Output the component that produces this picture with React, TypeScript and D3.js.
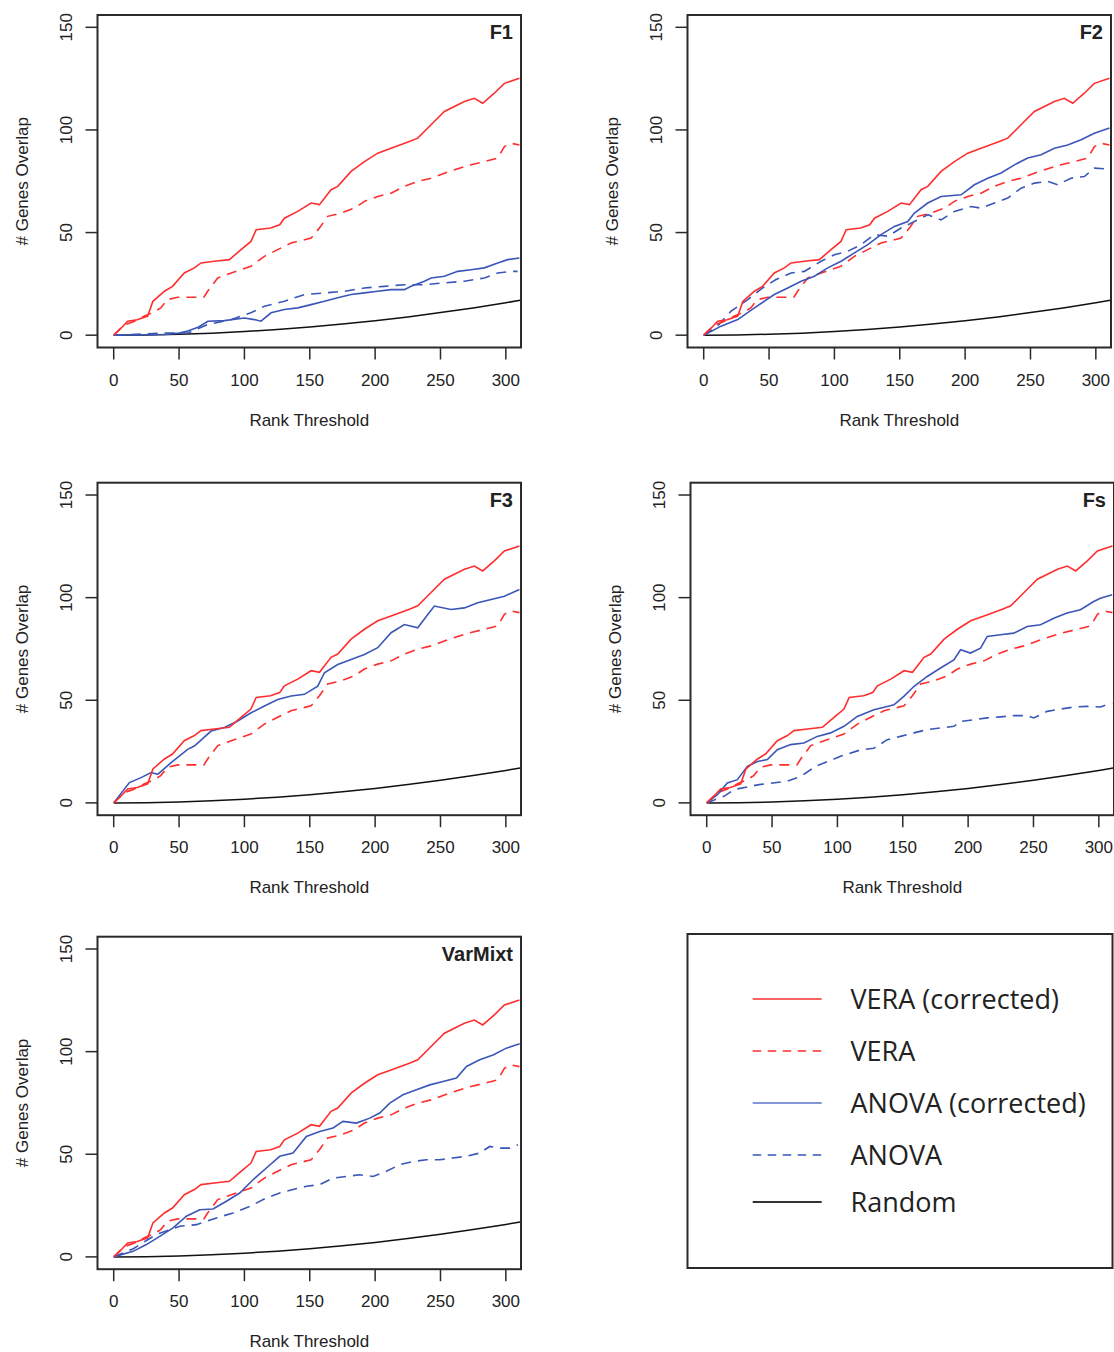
import React from "react";
import * as d3 from "d3";

type Pt = [number, number];

const xTicks = [0, 50, 100, 150, 200, 250, 300];
const yTicks = [0, 50, 100, 150];
const panelTitles = ["F1", "F2", "F3", "Fs", "VarMixt"];
const legendLabels = ["VERA (corrected)", "VERA", "ANOVA (corrected)", "ANOVA", "Random"];

// Shared across panels
const veraCorrected: Pt[] = [[0,0],[5,3],[10.7,6.8],[18,7.5],[26,9.3],[30,16.5],[38.8,21.4],[45,23.8],[54,30.3],[61.7,32.8],[66.8,35.2],[77,36],[88.5,36.8],[97.4,41.7],[105,45.7],[109,51.4],[120,52.2],[127,53.8],[130.6,57],[140.8,60.3],[151,64.4],[157.4,63.6],[166.3,70.9],[171.4,72.5],[181.6,79.8],[191.8,84.6],[202,88.7],[212.2,91.1],[226.2,94.4],[232.6,96],[242.8,102.5],[253,109],[268.3,113.8],[275.9,115.4],[282.3,113],[291.2,117.9],[298.9,122.7],[310.4,125.2]];
const vera: Pt[] = [[0,0],[8,5],[15,6.5],[23.5,9.3],[30,11],[36,13.3],[41,17.3],[49,18.5],[69,18.5],[72,21.5],[79.6,27.9],[90,30.3],[105,33.6],[115.3,38.4],[125.5,41.7],[135.7,44.9],[151,47.3],[157.4,52.2],[163.7,57.9],[174,59.5],[184.1,61.9],[191.8,65.2],[202,67.6],[212.2,69.2],[222.4,72.5],[232.6,74.9],[242.8,76.5],[253,78.9],[263.2,81.1],[273.4,83],[283.6,84.6],[293.8,86.3],[298.9,91.9],[303.9,93.5],[310.4,92.7]];
const randomOverlap: Pt[] = [[0,0],[25,0.1],[50,0.45],[75,1],[100,1.8],[125,2.8],[150,4],[175,5.4],[200,7],[225,8.9],[250,11],[275,13.3],[300,15.8],[311,17]];

// Per panel ANOVA curves
const anovaCorrF1: Pt[] = [[0,0],[38.8,0.3],[50,1],[56.6,2],[65,4],[72,6.8],[84.6,7.1],[100,8.4],[107.6,7.6],[112.7,6.8],[120.4,10.9],[130.6,12.5],[140.8,13.3],[151,14.9],[161.2,16.5],[171.4,18.2],[181.6,19.8],[191.8,20.6],[202,21.4],[212.2,22.2],[222.4,22.2],[227.5,23.8],[237.7,26.3],[242.8,27.9],[253,28.7],[263.2,31.1],[273.4,31.9],[283.6,32.8],[293.8,35.2],[301.4,36.8],[310.4,37.6]];
const anovaF1: Pt[] = [[0,0],[13,0.3],[38.8,1.1],[56.6,1.1],[72,5.2],[90,7.6],[105,10.9],[115.3,14.1],[130.6,16.5],[145.9,19.8],[161.2,20.6],[176.5,21.4],[191.8,23],[207.1,23.8],[222.4,24.6],[237.7,24.6],[253,25.5],[268.3,26.3],[283.6,27.9],[293.8,30.3],[304,31.1],[309,31.1]];

const anovaCorrF2: Pt[] = [[0,0],[13.3,4.4],[26,7.6],[38.8,13.3],[54,19.8],[64.3,23],[74.5,26.3],[84.7,28.7],[94.9,32.8],[105.1,36],[115.3,40.1],[125.5,44.1],[135.7,49],[145.9,53],[156.1,55.4],[161.2,59.5],[171.4,64.4],[181.6,67.6],[196.9,68.4],[207.1,73.3],[217.3,76.5],[227.5,79],[237.7,83],[247.9,86.3],[258.1,87.9],[268.3,91.1],[278.5,92.7],[288.7,95.2],[298.9,98.4],[310.4,100.9]];
const anovaF2: Pt[] = [[0,0],[10,4],[20.9,11.7],[33.7,17.3],[45,23],[55,27],[66.8,30.3],[77,31.1],[89.8,36],[100,39.2],[110.2,40.9],[120.4,44.1],[130.6,49],[140.8,48.2],[151,52.2],[161.2,55.4],[171.4,58.7],[181.6,56.2],[191.8,60.3],[204.5,62.7],[212.2,61.9],[222.4,64.4],[232.6,66.8],[242.8,71.6],[253,74.1],[263.2,74.9],[270.8,73.3],[281,76.5],[291.2,77.3],[298.9,81.4],[306.5,81.1]];

const anovaCorrF3: Pt[] = [[0,0],[12,9.9],[20.9,12.3],[28.6,14.8],[33.7,13.9],[43.9,19.6],[56.6,26.1],[61.7,27.7],[74.5,35],[84.7,36.7],[94.9,39.9],[105.1,43.9],[115.3,47.2],[125.5,50.4],[135.7,52.1],[145.9,52.9],[156.1,56.9],[161.2,63.4],[171.4,67.4],[181.6,69.9],[191.8,72.3],[202,75.6],[212.2,82.9],[222.4,86.9],[232.6,85.3],[240.3,91.8],[245.3,95.9],[258.1,94.2],[268.3,95],[278.5,97.5],[288.7,99.1],[298.9,100.7],[310.4,104]];
const anovaF3: Pt[] = [];

const anovaCorrFs: Pt[] = [[0,0],[8.2,4],[15.8,9.7],[23.5,11.3],[31.1,17.8],[38.8,20.2],[46.4,21.1],[54,25.9],[64.2,28.4],[74.4,29.2],[84.6,32.4],[94.8,34.1],[105,37.3],[115.2,42.1],[127.9,45.4],[138.1,47],[143.2,47.8],[150.8,51.9],[158.5,56.7],[168.7,61.6],[178.9,65.7],[189.1,69.7],[194.2,74.6],[201.8,73],[209.5,75.4],[214.6,81.1],[224.8,81.9],[234.9,82.7],[245.2,85.9],[255.4,86.8],[265.5,90],[275.7,92.5],[285.9,94.1],[296.1,98.1],[301.2,99.7],[310.2,101.4]];
const anovaFs: Pt[] = [[0,0],[13.2,3.2],[20.9,6.5],[40,8.9],[61,10.5],[72,12.9],[83.3,17.8],[102.4,22.7],[118,25.9],[127.9,26.6],[138.1,30.8],[148.3,32.4],[158.5,34.1],[168.7,35.7],[178.9,36.5],[189.1,37.3],[194.2,39.7],[204.4,40.5],[214.6,41.4],[224.8,41.9],[234.9,42.5],[245.2,42.5],[250.2,41.4],[260.5,44.6],[270.6,45.7],[280.8,46.7],[291,47],[301.2,46.7],[310.2,48.7]];

const anovaCorrVarMixt: Pt[] = [[0,0],[14.8,2.7],[25,6],[35.2,10],[45.4,14.1],[55.6,19.8],[65.8,23],[76,23.3],[86.2,27.1],[96.4,31.1],[106.6,37.6],[116.8,43.3],[127,49],[137.2,50.6],[147.4,58.7],[157.6,61.1],[167.8,62.8],[175.4,66],[185.7,65.2],[195.9,67.6],[203.5,70.1],[211.2,74.9],[221.3,79],[231.6,81.4],[241.8,83.8],[252,85.5],[262.2,87.1],[269.9,92.8],[280,96],[290.2,98.4],[300.4,101.7],[310.6,103.8]];
const anovaVarMixt: Pt[] = [[0,0],[15,4],[25,8],[32.6,10.9],[50.5,14.9],[63.3,15.7],[78.6,19],[91.3,21.4],[104.1,24.6],[116.8,28.7],[127,31.1],[137.2,32.8],[147.4,34.4],[157.6,35.2],[167.8,38.4],[178,39.2],[188.2,40],[198.4,39.2],[208.6,41.7],[218.8,44.9],[229,46.5],[239.2,47.3],[249.4,47.3],[259.6,48.2],[269.8,49],[280,50.6],[287.7,53.8],[295.3,53],[303,53],[309.3,54.6]];

const anovaCorrByPanel = [anovaCorrF1, anovaCorrF2, anovaCorrF3, anovaCorrFs, anovaCorrVarMixt];
const anovaByPanel = [anovaF1, anovaF2, anovaF3, anovaFs, anovaVarMixt];

const RED = "#ff2e2e";
const BLUE = "#3a56b8";
const FONT = "'Liberation Sans', Arial, Helvetica, sans-serif";

const panelPos: [number, number][] = [
  [97.5, 15],
  [687.5, 15],
  [97.5, 482.7],
  [690.5, 482.7],
  [97.5, 936.7],
];
const PW = 423.5;
const PH = 332.5;

function Panel({ left, top, title, anovaCorr, anova }: { left: number; top: number; title: string; anovaCorr: Pt[]; anova: Pt[] }) {
  const x = d3.scaleLinear().domain([-12.4, 311.6]).range([left, left + PW]);
  const y = d3.scaleLinear().domain([-6, 156]).range([top + PH, top]);
  const line = d3.line<Pt>().x((d) => x(d[0])).y((d) => y(d[1]));
  const bottom = top + PH;
  const cx = left + PW / 2;
  const cy = top + PH / 2;
  return (
    <g>
      <path d={line(randomOverlap) || ""} fill="none" stroke="#111" strokeWidth={1.5} />
      {anova.length > 0 && (
        <path d={line(anova) || ""} fill="none" stroke={BLUE} strokeWidth={1.6} strokeDasharray="10,7" />
      )}
      <path d={line(vera) || ""} fill="none" stroke={RED} strokeWidth={1.6} strokeDasharray="10,7" />
      <path d={line(anovaCorr) || ""} fill="none" stroke={BLUE} strokeWidth={1.6} />
      <path d={line(veraCorrected) || ""} fill="none" stroke={RED} strokeWidth={1.6} />
      <rect x={left} y={top} width={PW} height={PH} fill="none" stroke="#2a2a2a" strokeWidth={2} />
      {xTicks.map((t) => (
        <g key={"x" + t}>
          <line x1={x(t)} x2={x(t)} y1={bottom} y2={bottom + 12} stroke="#2a2a2a" strokeWidth={1.5} />
          <text x={x(t)} y={bottom + 38} textAnchor="middle" fontSize={17} fontFamily={FONT} fill="#222">{t}</text>
        </g>
      ))}
      {yTicks.map((t) => (
        <g key={"y" + t}>
          <line x1={left - 12} x2={left} y1={y(t)} y2={y(t)} stroke="#2a2a2a" strokeWidth={1.5} />
          <text transform={`translate(${left - 26},${y(t)}) rotate(-90)`} textAnchor="middle" fontSize={17} fontFamily={FONT} fill="#222">{t}</text>
        </g>
      ))}
      <text x={cx} y={bottom + 78} textAnchor="middle" fontSize={17} fontFamily={FONT} fill="#222">Rank Threshold</text>
      <text transform={`translate(${left - 70},${cy}) rotate(-90)`} textAnchor="middle" fontSize={17} fontFamily={FONT} fill="#222"># Genes Overlap</text>
      <text x={left + PW - 8} y={top + 24} textAnchor="end" fontSize={20} fontWeight="bold" fontFamily={FONT} fill="#222">{title}</text>
    </g>
  );
}

function Legend() {
  const lx = 687.5, ly = 934, lw = 425, lh = 334;
  const rows = [999, 1051, 1103, 1155, 1202];
  const styles = [
    { c: RED, dash: undefined },
    { c: RED, dash: "8.5,6.5" },
    { c: "#5b73c8", dash: undefined },
    { c: BLUE, dash: "8.5,6.5" },
    { c: "#333", dash: undefined },
  ];
  return (
    <g>
      <rect x={lx} y={ly} width={lw} height={lh} fill="none" stroke="#2a2a2a" strokeWidth={2} />
      {legendLabels.map((lab, i) => (
        <g key={lab}>
          <line x1={752.7} x2={821.7} y1={rows[i]} y2={rows[i]} stroke={styles[i].c} strokeWidth={i === 4 ? 2 : 1.6} strokeDasharray={styles[i].dash} />
          <text x={850.5} y={rows[i]} dy="0.36em" fontSize={27} fontFamily="'Open Sans', sans-serif" fill="#222">{lab}</text>
        </g>
      ))}
    </g>
  );
}

export default function App() {
  return (
    <svg width={1114} height={1352} style={{ position: "absolute", left: 0, top: 0, background: "#fff" }}>
      <rect width={1114} height={1352} fill="#fff" />
      {panelTitles.map((t, i) => (
        <Panel key={t} left={panelPos[i][0]} top={panelPos[i][1]} title={t} anovaCorr={anovaCorrByPanel[i]} anova={anovaByPanel[i]} />
      ))}
      <Legend />
    </svg>
  );
}
